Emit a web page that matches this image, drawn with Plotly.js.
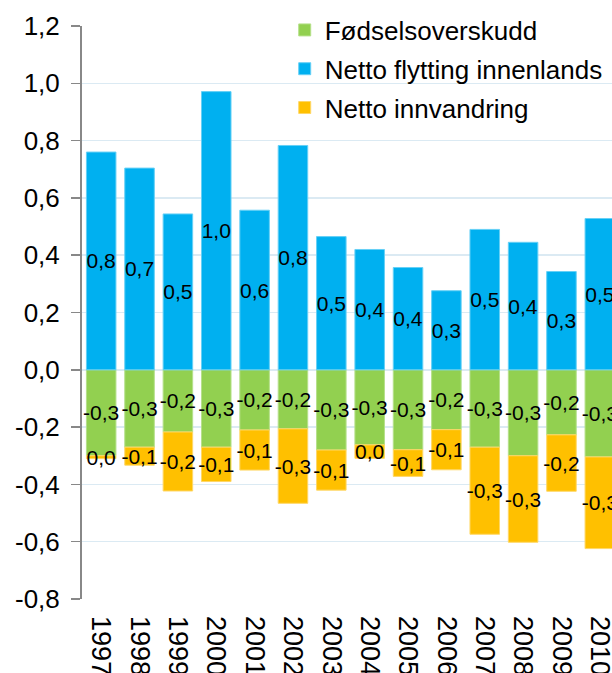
<!DOCTYPE html>
<html>
<head>
<meta charset="utf-8">
<script src="https://cdn.plot.ly/plotly-3.0.1.min.js"></script>
<style>html,body{margin:0;padding:0;overflow:hidden;background:#fff;}</style>
</head>
<body>
<div id="chart"></div>
<script>
var years = ['1997','1998','1999','2000','2001','2002','2003','2004','2005','2006','2007','2008','2009','2010'];
var fodselsoverskudd = [-0.30,-0.27,-0.217,-0.27,-0.21,-0.206,-0.28,-0.262,-0.279,-0.209,-0.27,-0.30,-0.227,-0.304];
var nettoFlytting = [0.76,0.704,0.544,0.971,0.557,0.783,0.465,0.42,0.357,0.276,0.49,0.445,0.343,0.528];
var nettoInnvandring = [-0.01,-0.063,-0.206,-0.12,-0.14,-0.26,-0.14,-0.047,-0.093,-0.14,-0.304,-0.302,-0.197,-0.32];
var yTicks = [-0.8,-0.6,-0.4,-0.2,0,0.2,0.4,0.6,0.8,1.0,1.2];

function fmt(v){
  var s = Math.abs(v).toFixed(1);
  var neg = v < 0 && parseFloat(s) !== 0;
  return (neg ? '-' : '') + s.replace('.', ',');
}

var FONT = 'Liberation Sans, Arial, sans-serif';
function barTrace(name, vals, color, edge, grp){
  return {
    type:'bar', name:name, x:years, y:vals,
    text: vals.map(fmt), textposition:'inside', insidetextanchor:'middle',
    constraintext:'none', textangle:0,
    textfont:{family:FONT, size:21, color:'#000'},
    marker:{color:color, line:{color:edge, width:1}},
    legendgroup:grp, hoverinfo:'skip'
  };
}

var data = [
  barTrace('Fødselsoverskudd', fodselsoverskudd, '#92D050', '#b5e08a', 'a'),
  barTrace('Netto flytting innenlands', nettoFlytting, '#00B0F0', '#66d0f6', 'b'),
  barTrace('Netto innvandring', nettoInnvandring, '#FFC000', '#ffd766', 'c')
];

var layout = {
  width:700, height:673,
  margin:{l:82, r:81, t:26, b:74, autoexpand:false},
  paper_bgcolor:'#fff', plot_bgcolor:'#fff',
  barmode:'relative', bargap:0.23,
  font:{family:FONT, color:'#000'},
  showlegend:true,
  legend:{x:0.3775, xanchor:'left', y:1.034, yanchor:'top', traceorder:'grouped',
          tracegroupgap:2, font:{family:FONT, size:26, color:'#000'}, bgcolor:'rgba(0,0,0,0)'},
  xaxis:{type:'category', categoryarray:years, range:[-0.5,13.5], showgrid:false, zeroline:false,
         showline:false, ticks:'', tickangle:90, tickfont:{family:FONT, size:27, color:'#000'},
         ticklabelstandoff:16, automargin:false},
  xaxis2:{overlaying:'x', matches:'x', anchor:'free', position:0.4, showline:true, linecolor:'#888',
          linewidth:2, ticks:'outside', ticklen:6, tickwidth:1.5, tickcolor:'#888', tickson:'boundaries',
          showticklabels:false, showgrid:false, zeroline:false, automargin:false},
  yaxis:{range:[-0.8,1.2], tickmode:'array', tickvals:yTicks, ticktext:yTicks.map(fmt),
         showgrid:true, gridcolor:'#dbeaf3', gridwidth:1.5, zeroline:false,
         showline:true, linecolor:'#888', linewidth:2, ticks:'outside', ticklen:9, tickwidth:1.5,
         tickcolor:'#888', tickfont:{family:FONT, size:26, color:'#000'}, ticklabelstandoff:6,
         automargin:false}
};

Plotly.newPlot('chart', data, layout, {displayModeBar:false, staticPlot:true});
</script>
</body>
</html>
